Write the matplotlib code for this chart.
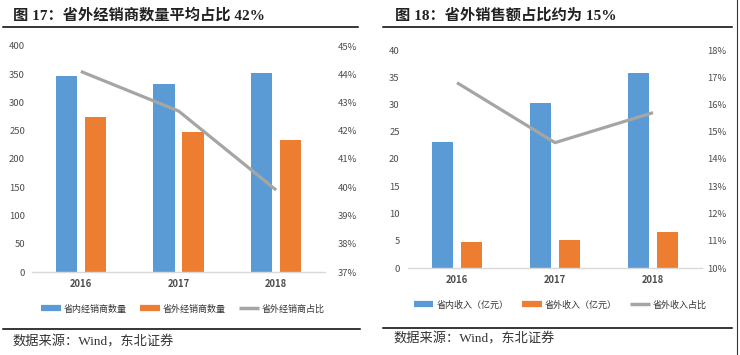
import matplotlib
matplotlib.use("Agg")
import matplotlib.pyplot as plt
from matplotlib.lines import Line2D
from matplotlib.ticker import FuncFormatter
import numpy as np

plt.rcParams['font.family'] = ['Noto Sans CJK SC', 'DejaVu Sans']

# ---- data ----
years = ['2016', '2017', '2018']
dealers_in = [347, 333, 352]          # 省内经销商数量
dealers_out = [274, 248, 234]         # 省外经销商数量
dealers_out_share = [44.1, 42.7, 39.9]  # 省外经销商占比 (%)
rev_in = [23.1, 30.3, 35.7]           # 省内收入（亿元）
rev_out = [4.7, 5.2, 6.6]             # 省外收入（亿元）
rev_out_share = [16.8, 14.6, 15.7]    # 省外收入占比 (%)

title1 = '图 17：省外经销商数量平均占比 42%'
title2 = '图 18：省外销售额占比约为 15%'
legend1 = ['省内经销商数量', '省外经销商数量', '省外经销商占比']
legend2 = ['省内收入（亿元）', '省外收入（亿元）', '省外收入占比']
source = '数据来源：Wind，东北证券'

BLUE = '#5B9BD5'
ORANGE = '#ED7D31'
GRAY = '#A5A5A5'
TXT = '#4D4D4D'
SERIF_MIX = ['Liberation Serif', 'Noto Sans CJK SC']

W, H = 740, 355
fig = plt.figure(figsize=(W / 100, H / 100), dpi=100)
fig.patch.set_facecolor('white')


def fx(px):
    return px / W


def fy(py):
    return 1 - py / H


def make_panel(rect, inner, outer, share, ylim, yticks, rlim, rticks, lpad, rpad):
    ax = fig.add_axes(rect)
    x = np.arange(len(years))
    bw = 0.22
    off = 0.148
    ax.bar(x - off, inner, width=bw, color=BLUE, zorder=2)
    ax.bar(x + off, outer, width=bw, color=ORANGE, zorder=2)
    ax.set_xlim(-0.5, len(years) - 0.5)
    ax.set_ylim(*ylim)
    ax.set_yticks(yticks)
    ax.set_xticks(x)
    ax.set_xticklabels(years, fontweight='bold')
    for s in ['top', 'left', 'right']:
        ax.spines[s].set_visible(False)
    ax.spines['bottom'].set_color('#D9D9D9')
    ax.spines['bottom'].set_linewidth(1.0)
    ax.tick_params(axis='both', length=0, labelsize=6.8, colors=TXT)
    ax.tick_params(axis='y', pad=lpad)
    ax.tick_params(axis='x', pad=5)
    ax2 = ax.twinx()
    ax2.plot(x, share, color=GRAY, lw=2.3, solid_capstyle='butt', zorder=3)
    ax2.set_ylim(*rlim)
    ax2.set_yticks(rticks)
    ax2.yaxis.set_major_formatter(FuncFormatter(lambda v, p: f'{v:.0f}%'))
    for s in ['top', 'left', 'right', 'bottom']:
        ax2.spines[s].set_visible(False)
    ax2.tick_params(axis='y', length=0, labelsize=6.8, colors=TXT, pad=rpad)
    return ax, ax2


# left panel: x 32..325, y 46..272
make_panel([fx(32), fy(272), fx(325) - fx(32), fy(46) - fy(272)],
           dealers_in, dealers_out, dealers_out_share,
           (0, 400), range(0, 401, 50), (37, 45), range(37, 46), 5, 9)
# right panel: x 408..702, y 50..268
make_panel([fx(408), fy(268), fx(702) - fx(408), fy(50) - fy(268)],
           rev_in, rev_out, rev_out_share,
           (0, 40), range(0, 41, 5), (10, 18), range(10, 19), 6, 4)

# titles
fig.text(fx(13), fy(15), title1, fontsize=11, fontweight='bold', color='#222222',
         va='center', ha='left', family=SERIF_MIX)
fig.text(fx(395), fy(15), title2, fontsize=11, fontweight='bold', color='#222222',
         va='center', ha='left', family=SERIF_MIX)

# rules
for (x0, x1, y) in [(3, 358, 26.5), (383, 732, 26.5), (3, 360, 329), (383, 732, 328)]:
    fig.add_artist(Line2D([fx(x0), fx(x1)], [fy(y), fy(y)], color='black', lw=1.1,
                          transform=fig.transFigure))
fig.add_artist(Line2D([fx(737), fx(737)], [fy(0), fy(355)], color='#333333', lw=0.8,
                      transform=fig.transFigure))

# legends


def legend_handles():
    return [Line2D([], [], color=BLUE, lw=4.5, solid_capstyle='butt'),
            Line2D([], [], color=ORANGE, lw=4.5, solid_capstyle='butt'),
            Line2D([], [], color=GRAY, lw=2.5, solid_capstyle='butt')]


for labels, cx, cy in [(legend1, 183, 309), (legend2, 560, 305)]:
    leg = fig.legend(legend_handles(), labels, loc='center', bbox_to_anchor=(fx(cx), fy(cy)),
                     ncol=3, frameon=False, fontsize=6.5, handlelength=2.2,
                     handletextpad=0.3, columnspacing=1.5, borderaxespad=0)
    for t in leg.get_texts():
        t.set_color('#333333')

# source
fig.text(fx(12), fy(342), source, fontsize=9.5, color='#333333', va='center', ha='left',
         family=SERIF_MIX)
fig.text(fx(393), fy(339), source, fontsize=9.5, color='#333333', va='center', ha='left',
         family=SERIF_MIX)

fig.savefig('out.png', dpi=100, facecolor='white')
